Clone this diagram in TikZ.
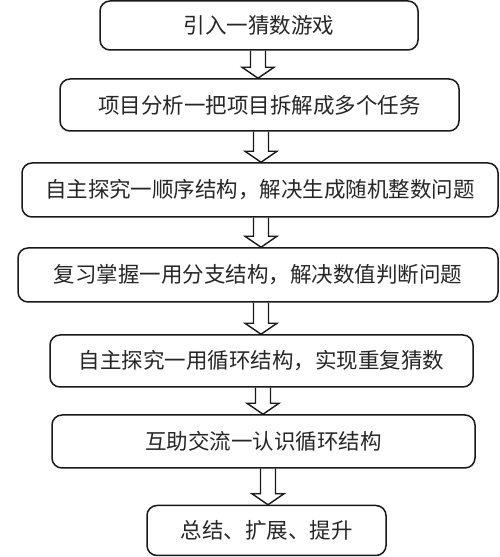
\documentclass[tikz,border=0pt]{standalone}
\usepackage{fontspec}
\newfontfamily\cjk{Noto Sans CJK SC}
\usetikzlibrary{calc}
\tikzset{
  stepbox/.style={draw=black!90, line width=1.5pt, rounded corners=10pt, inner sep=0pt,
    font=\cjk\fontsize{21.5}{24}\selectfont, text=black!85},
  blockarrow/.style={draw=black!90, line width=1.4pt, line join=miter}
}
\newcommand{\flowarrow}[3]{%
  \draw[blockarrow] let \p1=(#1.south), \p2=(#2.north) in
    (#3pt-7.5pt,\y1) -- (#3pt-7.5pt,\y2+11pt) -- (#3pt-16pt,\y2+11pt) -- (#3pt,\y2)
    -- (#3pt+16pt,\y2+11pt) -- (#3pt+7.5pt,\y2+11pt) -- (#3pt+7.5pt,\y1);}
\begin{document}
\begin{tikzpicture}[x=1pt,y=1pt]
\useasboundingbox[fill=white] (0,0) rectangle (500,557);
\node[stepbox, minimum width=318pt, minimum height=49pt] (b1) at (259,531.5) {引入一猜数游戏};
\node[stepbox, minimum width=399pt, minimum height=52pt] (b2) at (259.5,452) {项目分析一把项目拆解成多个任务};
\node[stepbox, minimum width=476pt, minimum height=54pt] (b3) at (260,367) {自主探究一顺序结构，解决生成随机整数问题};
\node[stepbox, minimum width=480pt, minimum height=54pt] (b4) at (258,282) {复习掌握一用分支结构，解决数值判断问题};
\node[stepbox, minimum width=423pt, minimum height=52pt] (b5) at (261.5,196) {自主探究一用循环结构，实现重复猜数};
\node[stepbox, minimum width=423pt, minimum height=53pt] (b6) at (263.5,115.5) {互助交流一认识循环结构};
\node[stepbox, minimum width=239pt, minimum height=50pt] (b7) at (266.5,26.5) {总结、扩展、提升};
\flowarrow{b1}{b2}{258}
\flowarrow{b2}{b3}{261}
\flowarrow{b3}{b4}{261}
\flowarrow{b4}{b5}{261}
\flowarrow{b5}{b6}{263}
\flowarrow{b6}{b7}{268}
\end{tikzpicture}
\end{document}
